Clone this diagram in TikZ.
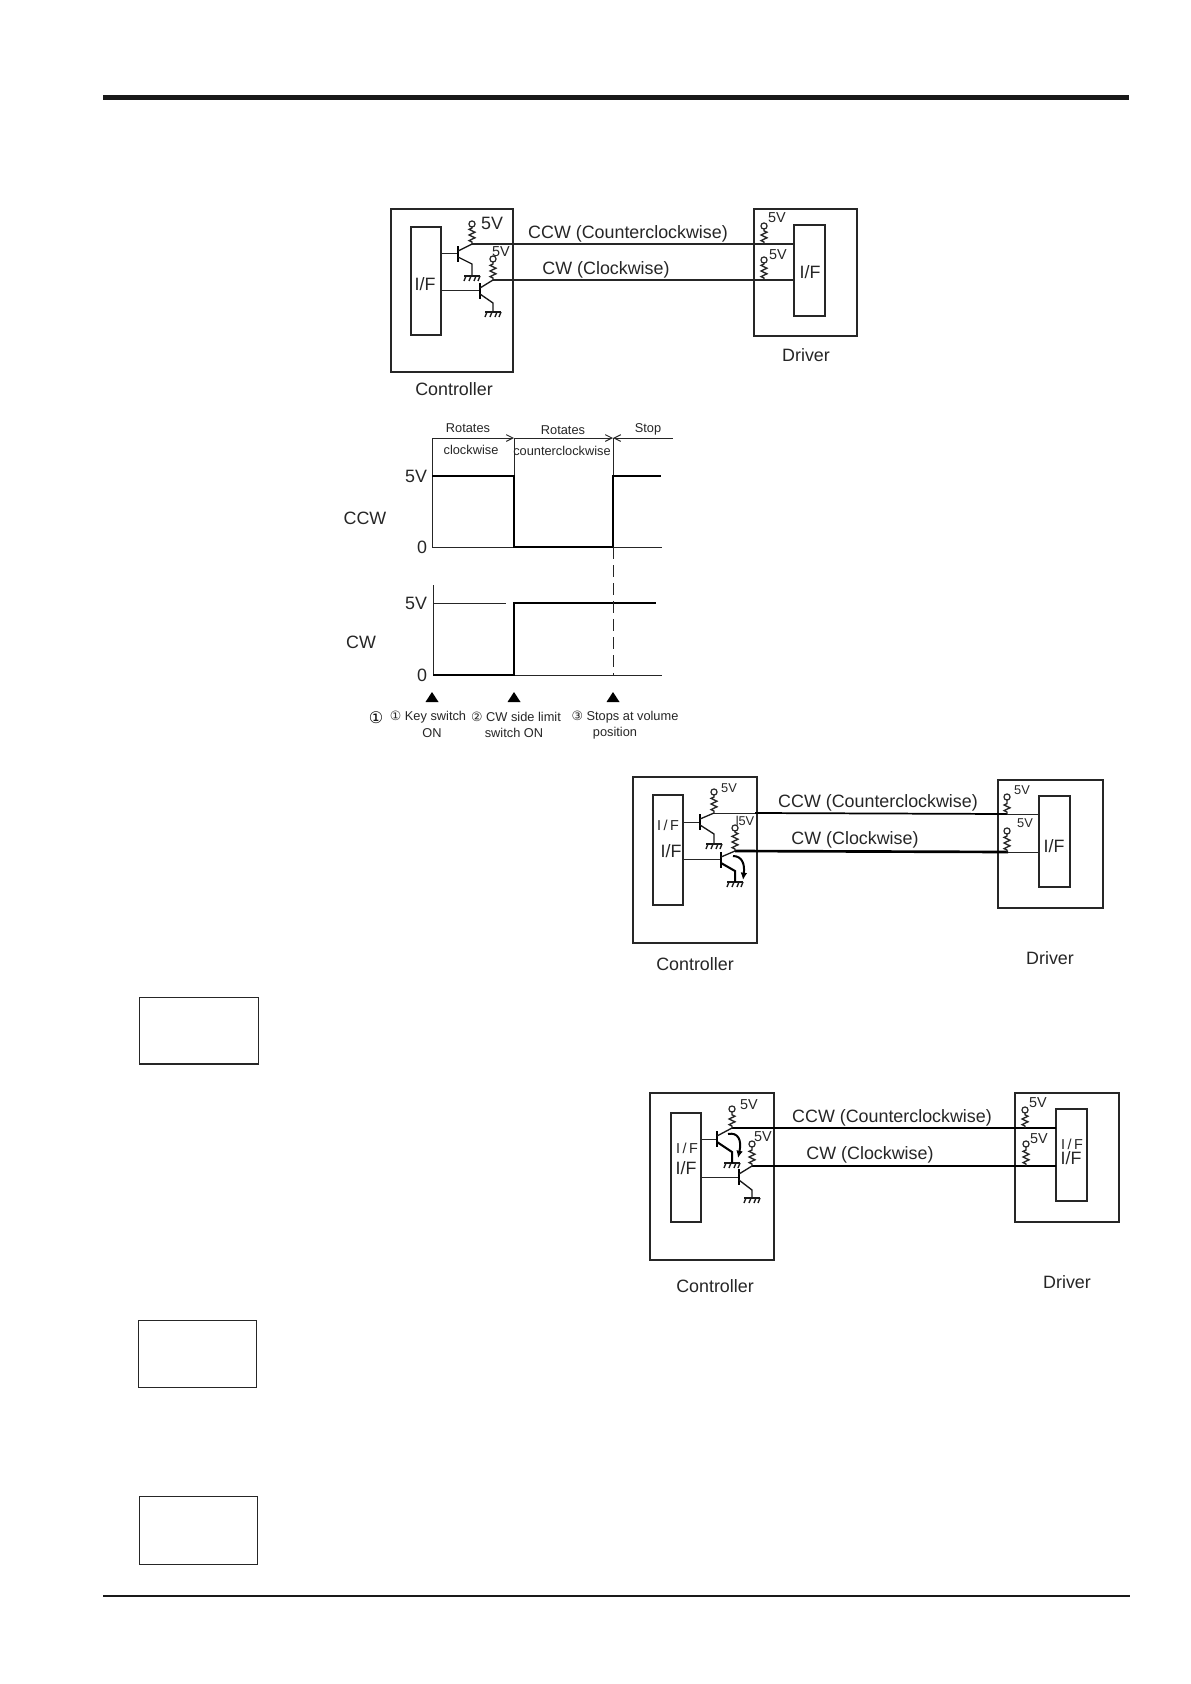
\documentclass[tikz,border=0pt]{standalone}
\usepackage{fontspec}
\setmainfont{Liberation Sans}
\usetikzlibrary{decorations.pathmorphing,arrows.meta,calc}
\newfontfamily\symfont{DejaVu Sans}
\tikzset{
  lbl/.style={inner sep=0pt,font=\fontsize{13.4}{15}\selectfont,text=black!85},
  sml/.style={inner sep=0pt,font=\fontsize{10.8}{12}\selectfont,text=black!85},
  tin/.style={inner sep=0pt,font=\fontsize{9.6}{11}\selectfont,text=black!85},
  box/.style={draw=black!85,line width=0.9pt},
  thinw/.style={draw=black!85,line width=0.75pt},
  trw/.style={draw=black!90,line width=1pt},
  midw/.style={draw=black,line width=1.1pt},
  thickw/.style={draw=black,line width=2pt},
  res/.style={draw=black!85,line width=1pt,decorate,decoration={zigzag,amplitude=2.2pt,segment length=4.2pt,pre length=1.5pt,post length=1.5pt}},
  ring/.style={circle,draw=black!85,line width=0.9pt,minimum size=4.6pt,inner sep=0pt},
  tri/.style={fill=black,draw=none},
  curarrow/.style={draw=black,line width=1.5pt,-{Latex[length=5.5pt,width=5pt]}}
}
% #1 base-bar x, #2 bar centre y, #3 IF right x, #4 base y, #5 collector x, #6 collector y, #7 emitter y, #8 ground y, #9 ring y
\newcommand{\xstr}[9]{%
  \draw[thinw] (#3,#4) -- (#1,#4);
  \draw[midw,line width=1.3pt] (#1,#2-8) -- (#1,#2+8);
  \draw[trw] (#1,#2-3) -- (#5,#6);
  \draw[trw] (#1,#2+3) -- (#5,#7) -- (#5,#8);
  \draw[trw] (#5-8,#8) -- (#5+8,#8);
  \foreach \k in {-6,-1,4,8}{\draw[trw] (#5+\k,#8) -- (#5+\k-2,#8+5);}
  \draw[res] (#5,#6) -- (#5,#9+2);
  \node[ring] at (#5,#9) {};
}
\newcommand{\drvres}[3]{%
  \draw[res] (#1,#2) -- (#1,#3+2);
  \node[ring] at (#1,#3) {};
}
\begin{document}
\begin{tikzpicture}[x=0.75pt,y=-0.75pt]
\useasboundingbox (0,0) rectangle (1190,1684);
\fill[white] (0,0) rectangle (1190,1684);
% rules
\draw[draw=black!90,line width=3pt] (103,97.5) -- (1129,97.5);
\draw[draw=black!90,line width=1.4pt] (103,1596) -- (1130,1596);
% blank boxes
\draw[box] (139.5,997.5) rectangle (258.5,1064);
\draw[box] (138.5,1320.5) rectangle (256.5,1387.5);
\draw[box] (139.5,1496.5) rectangle (257.5,1564.5);

% ---------- Diagram 1
\draw[box] (391,209) rectangle (513,372);
\draw[box] (411,227) rectangle (441,335);
\draw[box] (754,209) rectangle (857,336);
\draw[box] (794,225) rectangle (825,316);
\draw[thinw,line width=0.9pt] (472,244) -- (794,244);
\draw[thinw,line width=0.9pt] (493,280) -- (794,280);
\xstr{458}{254}{441}{253}{472}{244}{264}{276}{224}
\xstr{480}{291}{441}{290}{493}{280}{303}{312}{259}
\drvres{764}{244}{226}
\drvres{764}{280}{260}
\node[lbl] (l1a) at (492,223) {5V};
\node[sml] (l1b) at (501,252) {5V};
\node[sml] (l1c) at (777,218) {5V};
\node[sml] (l1d) at (778,255) {5V};
\node[lbl] (l1e) at (628,233.5) {CCW (Counterclockwise)};
\node[lbl] (l1f) at (606,269.5) {CW (Clockwise)};
\node[lbl] (l1g) at (425,284) {I/F};
\node[lbl] (l1h) at (810,272) {I/F};
\node[lbl] (l1i) at (806,355) {Driver};
\node[lbl] (l1j) at (454,389) {Controller};

% ---------- Timing chart
\draw[thinw] (432,438) -- (432,547);
\draw[thinw] (433,585) -- (433,675);
\draw[thinw,-{Straight Barb[length=5pt,width=5pt]}] (432,438) -- (514,438);
\draw[thinw,-{Straight Barb[length=5pt,width=5pt]}] (514,438) -- (613,438);
\draw[thinw,{Straight Barb[length=5pt,width=5pt]}-] (613,438) -- (673,438);
\draw[thinw] (514,438) -- (514,476);
\draw[thinw] (613,438) -- (613,476);
\draw[thinw] (432,547) -- (662,547);
\draw[thinw] (433,675) -- (662,675);
\draw[thinw] (433,603) -- (506,603);
\draw[thickw] (432,476) -- (514,476) -- (514,547) -- (613,547) -- (613,476) -- (661,476);
\draw[thickw] (433,675) -- (514,675) -- (514,603) -- (656,603);
\draw[thinw,dash pattern=on 9pt off 4.5pt] (613,547) -- (613,675);
\fill[tri] (432,692) -- (425.5,702) -- (438.5,702) -- cycle;
\fill[tri] (514,692) -- (507.5,702) -- (520.5,702) -- cycle;
\fill[tri] (613,692) -- (606.5,702) -- (619.5,702) -- cycle;
\node[tin] (t1) at (468,428) {Rotates};
\node[tin] (t2) at (471,450) {clockwise};
\node[tin] (t3) at (563,430) {Rotates};
\node[tin] (t4) at (562,451) {counterclockwise};
\node[tin] (t5) at (648,429) {Stop};
\node[lbl] (t6) at (416,476) {5V};
\node[lbl] (t7) at (422,547) {0};
\node[lbl] (t8) at (365,518) {CCW};
\node[lbl] (t9) at (416,603) {5V};
\node[lbl] (t10) at (361,642) {CW};
\node[lbl] (t11) at (422,675) {0};
\node[inner sep=0pt,font=\symfont\fontsize{12}{14}\selectfont] (t12) at (376,718) {①};
\node[tin] (t13) at (428,717) {{\symfont ①} Key switch};
\node[tin] (t14) at (432,733) {ON};
\node[tin] (t15) at (516,717) {{\symfont ②} CW side limit};
\node[tin] (t16) at (514,733) {switch ON};
\node[tin] (t17) at (625,717) {{\symfont ③} Stops at volume};
\node[tin] (t18) at (615,733) {position};

% ---------- Diagram 3
\draw[box] (633,777) rectangle (757,943);
\draw[box] (653,795) rectangle (683,905);
\draw[box] (998,780) rectangle (1103,908);
\draw[box] (1039,796) rectangle (1070,887);
\draw[thinw] (714,813) -- (755,813);
\draw[midw,line width=1.3pt] (755,813) -- (1007,814);
\draw[thinw] (1007,814) -- (1039,814);
\draw[thickw] (735,851) -- (1008,852);
\draw[thinw] (1008,852) -- (1039,852);
\xstr{700}{822}{683}{822}{714}{813}{834}{844}{792}
\xstr{721}{860}{683}{859}{735}{851}{871}{882}{828}
\draw[midw,line width=1.5pt] (721,863) -- (735,871) -- (735,882);
\draw[curarrow] (733,856) .. controls (742,856) and (745,864) .. (743,880);
\drvres{1007}{814}{797}
\drvres{1007}{852}{831}
\node[tin] (m1) at (729,788) {5V};
\node[tin] (m2) at (745,821) {l5V};
\node[tin] (m3) at (1022,790) {5V};
\node[tin] (m4) at (1025,823) {5V};
\node[lbl] (m5) at (878,803) {CCW (Counterclockwise)};
\node[lbl] (m6) at (855,840) {CW (Clockwise)};
\node[sml] (m7) at (668,825) {I\,/\,F};
\node[lbl] (m8) at (671,851) {I/F};
\node[lbl] (m9) at (1054,846) {I/F};
\node[lbl] (m10) at (1050,958) {Driver};
\node[lbl] (m11) at (695,964) {Controller};

% ---------- Diagram 4
\draw[box] (650,1093) rectangle (774,1260);
\draw[box] (671,1113) rectangle (701,1222);
\draw[box] (1015,1093) rectangle (1119,1222);
\draw[box] (1056,1109) rectangle (1087,1201);
\draw[thickw] (732,1128) -- (1023,1128);
\draw[midw] (1023,1128) -- (1056,1128);
\draw[midw] (752,1166) -- (1056,1166);
\xstr{717}{1139}{701}{1139}{732}{1128}{1152}{1163}{1109}
\draw[midw,line width=1.5pt] (717,1142) -- (732,1152) -- (732,1163);
\xstr{739}{1177}{701}{1177}{752}{1166}{1190}{1198}{1144}
\draw[curarrow] (728,1134) .. controls (738,1132) and (742,1140) .. (738,1158);
\drvres{1025}{1128}{1110}
\drvres{1026}{1166}{1144}
\node[sml] (n1) at (749,1105) {5V};
\node[sml] (n2) at (763,1137) {5V};
\node[sml] (n3) at (1038,1103) {5V};
\node[sml] (n4) at (1039,1139) {5V};
\node[lbl] (n5) at (892,1118) {CCW (Counterclockwise)};
\node[lbl] (n6) at (870,1155) {CW (Clockwise)};
\node[sml] (n7) at (687,1148) {I\,/\,F};
\node[lbl] (n8) at (686,1168) {I/F};
\node[sml] (n9) at (1072,1144) {I\,/\,F};
\node[lbl] (n10) at (1071,1158) {I/F};
\node[lbl] (n11) at (1067,1282) {Driver};
\node[lbl] (n12) at (715,1286) {Controller};
\end{tikzpicture}
\end{document}
